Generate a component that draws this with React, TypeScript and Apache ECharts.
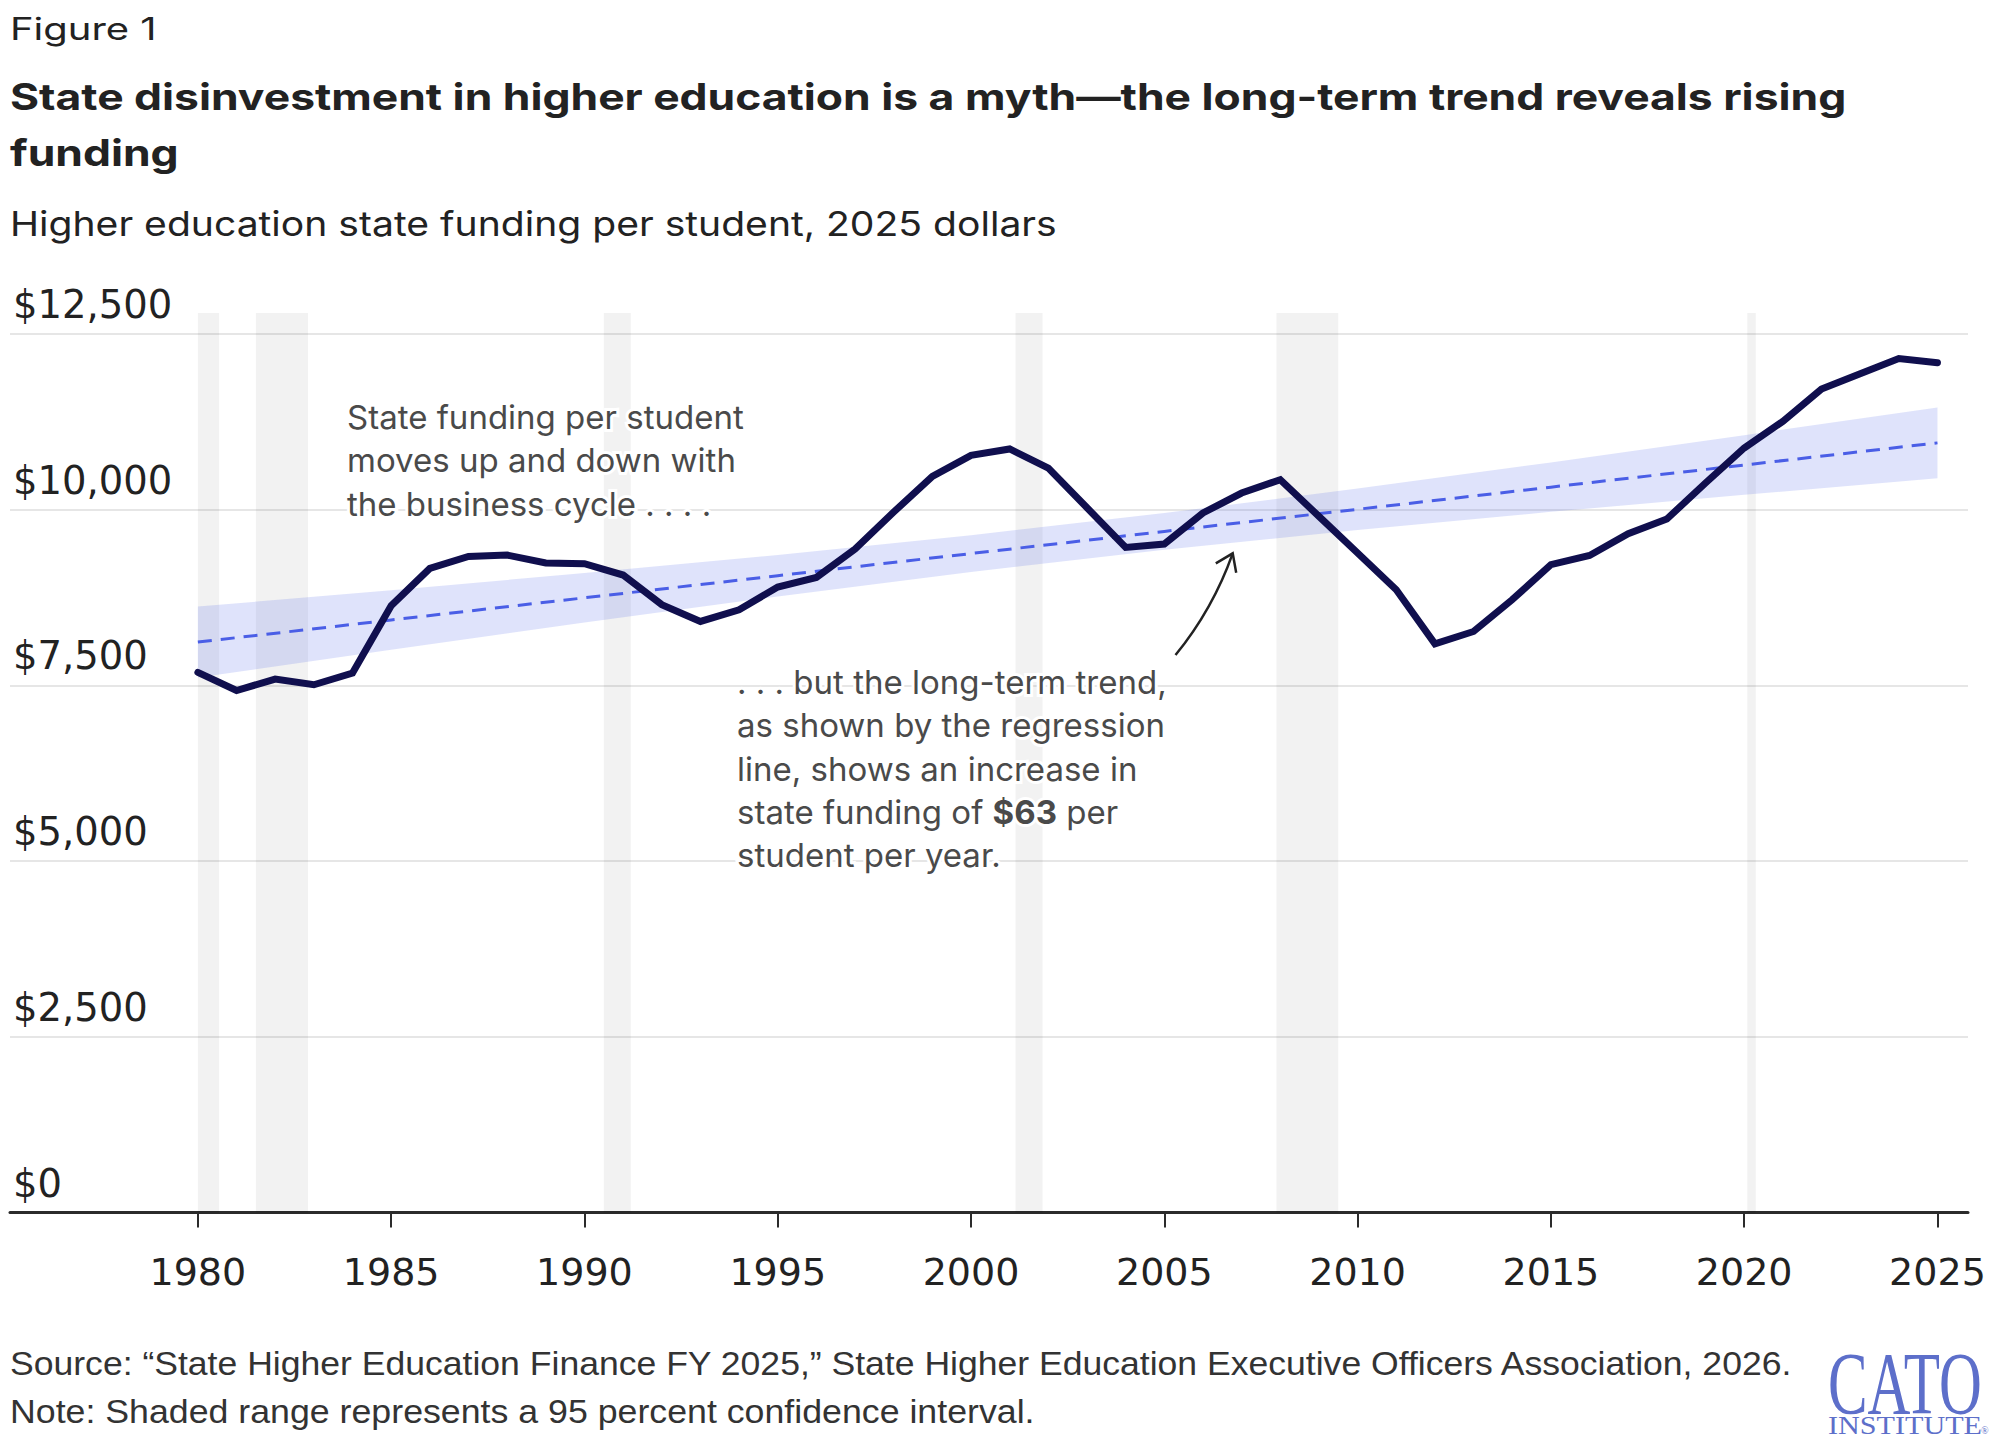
import React, { useEffect, useRef } from "react";
import * as echarts from "echarts";

// Higher education state funding per student, 2025 dollars
const years = [
  1980, 1981, 1982, 1983, 1984, 1985, 1986, 1987, 1988, 1989,
  1990, 1991, 1992, 1993, 1994, 1995, 1996, 1997, 1998, 1999,
  2000, 2001, 2002, 2003, 2004, 2005, 2006, 2007, 2008, 2009,
  2010, 2011, 2012, 2013, 2014, 2015, 2016, 2017, 2018, 2019,
  2020, 2021, 2022, 2023, 2024, 2025,
];
const fundingPerStudent = [
  7685, 7428, 7591, 7510, 7676, 8634, 9165, 9336, 9356, 9242,
  9232, 9071, 8650, 8411, 8577, 8900, 9037, 9441, 9968, 10475,
  10774, 10865, 10594, 10029, 9464, 9512, 9954, 10238, 10428, 9906,
  9384, 8862, 8093, 8268, 8720, 9218, 9350, 9659, 9868, 10381,
  10879, 11258, 11719, 11937, 12151, 12093,
];

// Regression line and its 95 percent confidence interval
const trendYears = [1980, 1985, 1990, 1995, 2000, 2005, 2010, 2015, 2020, 2025];
const trendLine = [8117, 8432, 8747, 9062, 9377, 9692, 10007, 10322, 10637, 10952];
const bandLow = [7612, 8008, 8395, 8767, 9116, 9431, 9712, 9970, 10213, 10447];
const bandHigh = [8622, 8856, 9099, 9357, 9638, 9953, 10302, 10674, 11061, 11457];

// Recessions (start, end) in decimal years
const recessions: [number, number][] = [
  [1980.0, 1980.55],
  [1981.5, 1982.85],
  [1990.5, 1991.2],
  [2001.15, 2001.85],
  [2007.9, 2009.5],
  [2020.08, 2020.3],
];

const yTicks = [0, 2500, 5000, 7500, 10000, 12500];
const xTicks = [1980, 1985, 1990, 1995, 2000, 2005, 2010, 2015, 2020, 2025];

const SANS = 'Inter, "Noto Sans", sans-serif';
const AXIS_FONT = '"DejaVu Sans", Inter, sans-serif';
const ARIAL = '"Liberation Sans", Arial, sans-serif';
const SERIF = '"Liberation Serif", "Times New Roman", serif';
const INK = "#222222";
const NOTE = "#4a4a4a";
const LOGO = "#5d6fca";

function buildOption() {
  return {
    animation: false,
    backgroundColor: "#ffffff",
    grid: { left: 10, right: 29, top: 313, bottom: 235.5, containLabel: false },
    xAxis: {
      type: "value",
      min: 1975.14,
      max: 2025.79,
      splitLine: { show: false },
      axisLine: { show: true, onZero: false, lineStyle: { color: "#2b2b2b", width: 3 } },
      axisTick: {
        show: true,
        length: 15,
        customValues: xTicks,
        lineStyle: { color: "#2b2b2b", width: 2 },
      },
      axisLabel: {
        customValues: xTicks,
        margin: 39,
        fontFamily: AXIS_FONT,
        fontSize: 38,
        lineHeight: 40,
        color: INK,
        formatter: (v: number) => String(v),
      },
    },
    yAxis: {
      type: "value",
      min: 0,
      max: 12800,
      axisLine: { show: false },
      axisTick: { show: false, customValues: yTicks },
      splitLine: { show: true, lineStyle: { color: "#e6e6e6", width: 2 } },
      axisLabel: {
        customValues: yTicks,
        inside: true,
        margin: 3,
        verticalAlign: "bottom",
        lineHeight: 59,
        fontFamily: AXIS_FONT,
        fontSize: 38.5,
        color: INK,
        formatter: (v: number) => "$" + v.toLocaleString("en-US"),
      },
    },
    series: [
      {
        name: "Confidence interval",
        type: "custom",
        silent: true,
        z: 2,
        data: [[trendYears[0], bandLow[0]]],
        renderItem: (_params: any, api: any) => {
          const pts: number[][] = [];
          trendYears.forEach((yr, i) => pts.push(api.coord([yr, bandHigh[i]])));
          for (let i = trendYears.length - 1; i >= 0; i--) {
            pts.push(api.coord([trendYears[i], bandLow[i]]));
          }
          return {
            type: "polygon",
            shape: { points: pts },
            style: { fill: "rgba(75,95,230,0.175)" },
          };
        },
      },
      {
        name: "Regression",
        type: "line",
        z: 3,
        silent: true,
        showSymbol: false,
        data: trendYears.map((yr, i) => [yr, trendLine[i]]),
        lineStyle: { color: "#4a5ee6", width: 3, type: [14, 9] },
        markArea: {
          silent: true,
          label: { show: false },
          itemStyle: { color: "rgba(0,0,0,0.05)", borderWidth: 0 },
          data: recessions.map(([a, b]) => [{ xAxis: a }, { xAxis: b }]),
        },
      },
      {
        name: "Funding per student",
        type: "line",
        z: 4,
        silent: true,
        showSymbol: false,
        data: years.map((yr, i) => [yr, fundingPerStudent[i]]),
        lineStyle: { color: "#100f4e", width: 7, cap: "round", join: "miter" },
      },
    ],
    graphic: [
      {
        type: "text",
        x: 10,
        y: 29,
        scaleX: 1.29,
        style: { text: "Figure 1", font: `31px ${SANS}`, fill: INK, verticalAlign: "middle" },
      },
      {
        type: "text",
        x: 10,
        y: 96,
        scaleX: 1.2,
        style: {
          text: "State disinvestment in higher education is a myth\u2014the long-term trend reveals rising",
          font: `bold 37px ${SANS}`,
          fill: INK,
          verticalAlign: "middle",
        },
      },
      {
        type: "text",
        x: 10,
        y: 152.5,
        scaleX: 1.2,
        style: { text: "funding", font: `bold 37px ${SANS}`, fill: INK, verticalAlign: "middle" },
      },
      {
        type: "text",
        x: 10,
        y: 223.6,
        scaleX: 1.15,
        style: {
          text: "Higher education state funding per student, 2025 dollars",
          font: `34px ${SANS}`,
          fill: INK,
          verticalAlign: "middle",
        },
      },
      {
        type: "text",
        x: 347,
        y: 395,
        z: 10,
        style: {
          text: "State funding per student\nmoves up and down with\nthe business cycle . . . .",
          font: `33px ${SANS}`,
          lineHeight: 43.5,
          fill: NOTE,
          stroke: "#ffffff",
          lineWidth: 6,
          verticalAlign: "top",
        },
      },
      {
        type: "text",
        x: 737,
        y: 660.5,
        z: 10,
        style: {
          text:
            ". . . but the long-term trend,\nas shown by the regression\nline, shows an increase in\nstate funding of {b|$63} per\nstudent per year.",
          font: `33px ${SANS}`,
          lineHeight: 43.3,
          fill: NOTE,
          stroke: "#ffffff",
          lineWidth: 6,
          verticalAlign: "top",
          rich: {
            b: {
              fontFamily: SANS,
              fontSize: 33,
              fontWeight: "bold",
              lineHeight: 43.3,
              fill: NOTE,
            },
          },
        },
      },
      {
        type: "bezierCurve",
        z: 10,
        shape: { x1: 1175.5, y1: 655, x2: 1232.7, y2: 553.3, cpx1: 1213, cpy1: 609 },
        style: { stroke: "#222222", lineWidth: 2.5, fill: "none" },
      },
      {
        type: "polyline",
        z: 10,
        shape: { points: [[1215.8, 563.3], [1232.7, 553.3], [1236.2, 572.7]] },
        style: { stroke: "#222222", lineWidth: 2.5, fill: "none" },
      },
      {
        type: "text",
        x: 10,
        y: 1363.6,
        scaleX: 1.046,
        style: {
          text:
            "Source: \u201cState Higher Education Finance FY 2025,\u201d State Higher Education Executive Officers Association, 2026.",
          font: `34px ${ARIAL}`,
          fill: "#333333",
          verticalAlign: "middle",
        },
      },
      {
        type: "text",
        x: 10,
        y: 1411.3,
        scaleX: 1.051,
        style: {
          text: "Note: Shaded range represents a 95 percent confidence interval.",
          font: `34px ${ARIAL}`,
          fill: "#333333",
          verticalAlign: "middle",
        },
      },
      {
        type: "text",
        x: 1828,
        y: 1383,
        scaleX: 0.69,
        scaleY: 1.03,
        style: { text: "CATO", font: `86px ${SERIF}`, fill: LOGO, verticalAlign: "middle" },
      },
      {
        type: "text",
        x: 1828,
        y: 1425,
        scaleX: 1.16,
        style: { text: "INSTITUTE", font: `26px ${SERIF}`, fill: LOGO, verticalAlign: "middle" },
      },
      {
        type: "text",
        x: 1981,
        y: 1430,
        style: { text: "\u00ae", font: `10px ${SERIF}`, fill: LOGO, verticalAlign: "middle" },
      },
    ],
  };
}

export default function App() {
  const ref = useRef<HTMLDivElement>(null);
  useEffect(() => {
    document.body.style.margin = "0";
    const chart = echarts.init(ref.current as HTMLDivElement, null, { renderer: "svg" });
    chart.setOption(buildOption() as any);
    return () => chart.dispose();
  }, []);
  return <div ref={ref} style={{ width: 1997, height: 1448, background: "#ffffff" }} />;
}
